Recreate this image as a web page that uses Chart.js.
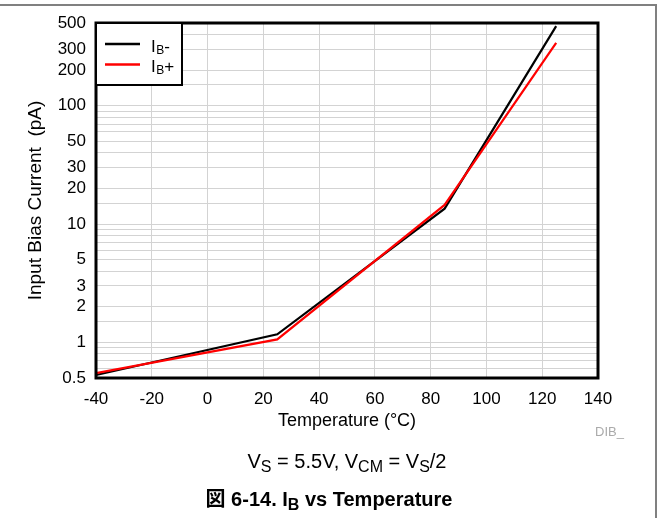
<!DOCTYPE html>
<html>
<head>
<meta charset="utf-8">
<script src="https://cdn.jsdelivr.net/npm/chart.js@4.4.1/dist/chart.umd.min.js"></script>
<style>
  html, body { margin: 0; padding: 0; background: #fff; }
  body {
    width: 658px; height: 518px; position: relative; overflow: hidden;
    font-family: "Liberation Sans", Arial, "Noto Sans CJK JP", sans-serif;
  }
  #frame {
    position: absolute; left: 0; top: 4px; width: 655px; height: 512px;
    border-top: 2px solid #808080; border-right: 2px solid #808080;
  }
  #chart { position: absolute; left: 0; top: 0; }
  .cond {
    position: absolute; left: 96px; width: 502px; top: 450px;
    text-align: center; font-size: 20px; line-height: 22px;
  }
  .cap {
    position: absolute; left: 0; width: 658px; top: 488px;
    text-align: center; font-size: 20px; line-height: 22px; font-weight: bold;
  }
  .tag {
    position: absolute; left: 595px; top: 424px;
    font-size: 13px; line-height: 15px; color: #aaa;
  }
  sub { font-size: 0.8em; vertical-align: -0.25em; line-height: 0; }
</style>
</head>
<body>
<div id="frame"></div>
<canvas id="chart" width="658" height="518"></canvas>
<div class="tag">DIB_</div>
<div class="cond">V<sub>S</sub> = 5.5V, V<sub>CM</sub> = V<sub>S</sub>/2</div>
<div class="cap">図 6-14. I<sub>B</sub> vs Temperature</div>

<script>
// ---- data ----
const temps = [-40, 25, 85, 125];
const ibMinus = [0.53, 1.17, 13.5, 470];   // pA
const ibPlus = [0.55, 1.06, 14.5, 340];    // pA
const seriesNames = ['IB-', 'IB+'];        // 2nd char drawn as subscript
const seriesColors = ['#000000', '#ff0000'];
const xTicks = [-40, -20, 0, 20, 40, 60, 80, 100, 120, 140];
const yTickLabels = [0.5, 1, 2, 3, 5, 10, 20, 30, 50, 100, 200, 300, 500];

const FONT = '"Liberation Sans", Arial, sans-serif';

// plot frame + legend box with subscript labels
const framePlugin = {
  id: 'frame',
  afterDatasetsDraw(chart) {
    const { ctx, chartArea: a } = chart;
    ctx.save();
    ctx.strokeStyle = '#000';
    ctx.lineWidth = 3;
    ctx.strokeRect(a.left, a.top, a.right - a.left, a.bottom - a.top);

    // legend
    ctx.fillStyle = '#fff';
    ctx.fillRect(a.left, a.top, 86, 62);
    ctx.lineWidth = 2;
    ctx.strokeRect(a.left, a.top, 86, 62);

    chart.data.datasets.forEach((ds, i) => {
      const ly = a.top + 21 + i * 20.5;
      ctx.strokeStyle = ds.borderColor;
      ctx.lineWidth = 2.5;
      ctx.beginPath();
      ctx.moveTo(a.left + 9, ly);
      ctx.lineTo(a.left + 44, ly);
      ctx.stroke();

      const base = ly + 7.7;
      let x = a.left + 55;
      const name = ds.label;
      ctx.fillStyle = '#000';
      ctx.textBaseline = 'alphabetic';
      ctx.textAlign = 'left';
      ctx.font = '17px ' + FONT;
      ctx.fillText(name[0], x, base);
      x += ctx.measureText(name[0]).width + 0.5;
      ctx.font = '12px ' + FONT;
      ctx.fillText(name[1], x, base + 2);
      x += ctx.measureText(name[1]).width;
      ctx.font = '17px ' + FONT;
      ctx.fillText(name.slice(2), x, base);
    });
    ctx.restore();
  }
};

const ctx = document.getElementById('chart').getContext('2d');

new Chart(ctx, {
  type: 'line',
  data: {
    datasets: [
      {
        label: seriesNames[0],
        data: temps.map((t, i) => ({ x: t, y: ibMinus[i] })),
        borderColor: seriesColors[0],
        borderWidth: 2.2,
        pointRadius: 0,
        tension: 0,
        order: 1
      },
      {
        label: seriesNames[1],
        data: temps.map((t, i) => ({ x: t, y: ibPlus[i] })),
        borderColor: seriesColors[1],
        borderWidth: 2.2,
        pointRadius: 0,
        tension: 0,
        order: 0
      }
    ]
  },
  options: {
    responsive: false,
    animation: false,
    devicePixelRatio: 1,
    layout: { padding: { left: 24.5, right: 60, top: 23, bottom: 86.2 } },
    plugins: { legend: { display: false }, tooltip: { enabled: false } },
    scales: {
      x: {
        type: 'linear',
        min: xTicks[0],
        max: xTicks[xTicks.length - 1],
        afterBuildTicks: s => { s.ticks = xTicks.map(v => ({ value: v })); },
        afterFit: s => { s.height = 53.8; },
        grid: { color: '#d3d3d3', lineWidth: 1, drawTicks: false },
        border: { display: false },
        ticks: {
          padding: 11,
          color: '#000',
          font: { family: FONT, size: 17 },
          maxRotation: 0,
          autoSkip: false
        },
        title: {
          display: true,
          text: 'Temperature (°C)',
          color: '#000',
          font: { family: FONT, size: 18 },
          padding: { top: 0, bottom: 0 }
        }
      },
      y: {
        type: 'logarithmic',
        min: yTickLabels[0],
        max: yTickLabels[yTickLabels.length - 1],
        afterFit: s => { s.width = 71.5; },
        grid: { color: '#d3d3d3', lineWidth: 1, drawTicks: false },
        border: { display: false },
        ticks: {
          padding: 10,
          color: '#000',
          autoSkip: false,
          font: { family: FONT, size: 17 },
          callback: v => yTickLabels.some(t => Math.abs(t - v) < 1e-6 * t) ? String(v) : ''
        },
        title: {
          display: true,
          text: 'Input Bias Current  (pA)',
          color: '#000',
          font: { family: FONT, size: 19 },
          padding: { top: 0, bottom: 0 }
        }
      }
    }
  },
  plugins: [framePlugin]
});
</script>
</body>
</html>
